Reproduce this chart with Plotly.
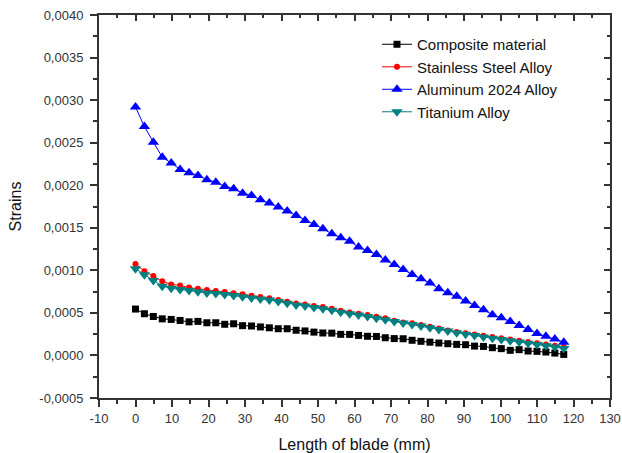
import plotly.graph_objects as go

x_mm = [0, 2.44, 4.89, 7.33, 9.78, 12.22, 14.67, 17.11, 19.56, 22.0, 24.44, 26.89, 29.33,
        31.78, 34.22, 36.67, 39.11, 41.56, 44.0, 46.44, 48.89, 51.33, 53.78, 56.22, 58.67,
        61.11, 63.56, 66.0, 68.44, 70.89, 73.33, 75.78, 78.22, 80.67, 83.11, 85.56, 88.0,
        90.44, 92.89, 95.33, 97.78, 100.22, 102.67, 105.11, 107.56, 110.0, 112.44, 114.89, 117.33]

composite = [0.545, 0.490, 0.458, 0.430, 0.423, 0.411, 0.395, 0.400, 0.384, 0.384, 0.366, 0.372,
             0.350, 0.346, 0.335, 0.325, 0.314, 0.314, 0.296, 0.288, 0.274, 0.264, 0.262, 0.248,
             0.247, 0.235, 0.225, 0.223, 0.208, 0.198, 0.196, 0.178, 0.166, 0.156, 0.146, 0.138,
             0.130, 0.126, 0.110, 0.106, 0.091, 0.080, 0.060, 0.068, 0.052, 0.048, 0.040, 0.028, 0.012]

stainless = [1.075, 0.990, 0.932, 0.872, 0.835, 0.823, 0.797, 0.785, 0.770, 0.758, 0.746, 0.731,
             0.719, 0.700, 0.688, 0.672, 0.652, 0.632, 0.610, 0.600, 0.582, 0.568, 0.550, 0.525,
             0.505, 0.490, 0.474, 0.456, 0.436, 0.408, 0.388, 0.378, 0.357, 0.337, 0.317, 0.292,
             0.274, 0.260, 0.247, 0.232, 0.218, 0.203, 0.188, 0.174, 0.158, 0.144, 0.128, 0.113, 0.098]

aluminum = [2.918, 2.690, 2.506, 2.330, 2.260, 2.186, 2.147, 2.115, 2.065, 2.036, 1.986, 1.959,
            1.907, 1.880, 1.830, 1.790, 1.743, 1.696, 1.645, 1.586, 1.539, 1.489, 1.430, 1.383,
            1.343, 1.273, 1.234, 1.187, 1.120, 1.070, 1.011, 0.950, 0.901, 0.850, 0.785, 0.738,
            0.695, 0.640, 0.588, 0.538, 0.478, 0.443, 0.400, 0.353, 0.306, 0.258, 0.225, 0.193, 0.156]

titanium = [1.019, 0.948, 0.881, 0.814, 0.790, 0.775, 0.762, 0.748, 0.735, 0.728, 0.716, 0.703,
            0.691, 0.676, 0.663, 0.650, 0.633, 0.613, 0.594, 0.580, 0.563, 0.548, 0.530, 0.508,
            0.490, 0.474, 0.458, 0.438, 0.418, 0.398, 0.380, 0.364, 0.346, 0.326, 0.306, 0.286,
            0.266, 0.250, 0.234, 0.218, 0.203, 0.188, 0.173, 0.158, 0.144, 0.130, 0.114, 0.098, 0.083]

series = [
    ("Composite material", composite, "#000000", "square", 7),
    ("Stainless Steel Alloy", stainless, "#FF0000", "circle", 6),
    ("Aluminum 2024 Alloy", aluminum, "#0000FF", "triangle-up", 10),
    ("Titanium Alloy", titanium, "#008080", "triangle-down", 10),
]

y_ticks = [-0.0005, 0.0, 0.0005, 0.0010, 0.0015, 0.0020, 0.0025, 0.0030, 0.0035, 0.0040]
y_ticktext = ["-0,0005", "0,0000", "0,0005", "0,0010", "0,0015", "0,0020", "0,0025",
              "0,0030", "0,0035", "0,0040"]
x_ticks = [-10, 0, 10, 20, 30, 40, 50, 60, 70, 80, 90, 100, 110, 120, 130]
x_ticktext = [str(v) for v in x_ticks]

FONT = "Liberation Sans, Arial, sans-serif"
AX = "#333333"

fig = go.Figure()
for name, vals, color, sym, size in series:
    fig.add_trace(go.Scatter(
        x=x_mm, y=[v / 1000 for v in vals], name=name, mode="lines+markers",
        line=dict(color=color, width=1),
        marker=dict(color=color, symbol=sym, size=size, line=dict(width=0)),
    ))

fig.add_trace(go.Scatter(x=[], y=[], xaxis="x2", yaxis="y2", showlegend=False, hoverinfo="skip"))

xr = [-10, 130]
yr = [-0.0005, 0.0040]

fig.update_layout(
    width=622, height=453,
    margin=dict(l=99, r=12, t=15, b=55),
    paper_bgcolor="white", plot_bgcolor="white",
    font=dict(family=FONT, color="#222222"),
    showlegend=True,
    legend=dict(x=0.544, y=0.966, xanchor="left", yanchor="top",
                font=dict(size=15, color="#111111", family=FONT),
                bgcolor="rgba(0,0,0,0)", tracegroupgap=0, itemwidth=30),
    xaxis=dict(range=xr, tickvals=x_ticks, ticktext=x_ticktext, showgrid=False, zeroline=False,
               automargin=False,
               showline=True, linecolor=AX, linewidth=2, ticks="outside", ticklen=7, tickwidth=1.5,
               tickcolor=AX, tickfont=dict(size=13, color="#333333"),
               minor=dict(ticks="outside", ticklen=4, tickwidth=1.5, tickcolor=AX, dtick=5, tick0=0, showgrid=False),
               title=dict(text="Length of blade (mm)", font=dict(size=16, color="#111111"), standoff=14)),
    yaxis=dict(range=yr, tickvals=y_ticks, ticktext=y_ticktext, showgrid=False, zeroline=False,
               automargin=False,
               showline=True, linecolor=AX, linewidth=2, ticks="outside", ticklen=7, tickwidth=1.5,
               tickcolor=AX, tickfont=dict(size=13, color="#333333"), ticklabelstandoff=4,
               minor=dict(ticks="outside", ticklen=4, tickwidth=1.5, tickcolor=AX, dtick=0.00025, tick0=0, showgrid=False),
               title=dict(text="Strains", font=dict(size=16, color="#111111"), standoff=14)),
    xaxis2=dict(range=xr, overlaying="x", side="top", anchor="y2", tickvals=x_ticks, automargin=False,
                showticklabels=False, showgrid=False, zeroline=False, showline=True, linecolor=AX,
                linewidth=2, ticks="inside", ticklen=6, tickwidth=1.5, tickcolor=AX,
                minor=dict(ticks="inside", ticklen=3, tickwidth=1.5, tickcolor=AX, dtick=5, tick0=0, showgrid=False)),
    yaxis2=dict(range=yr, overlaying="y", side="right", anchor="x2", tickvals=y_ticks, automargin=False,
                showticklabels=False, showgrid=False, zeroline=False, showline=True, linecolor=AX,
                linewidth=2, ticks="inside", ticklen=6, tickwidth=1.5, tickcolor=AX,
                minor=dict(ticks="inside", ticklen=3, tickwidth=1.5, tickcolor=AX, dtick=0.00025, tick0=0, showgrid=False)),
)

fig.write_html("out.html")
